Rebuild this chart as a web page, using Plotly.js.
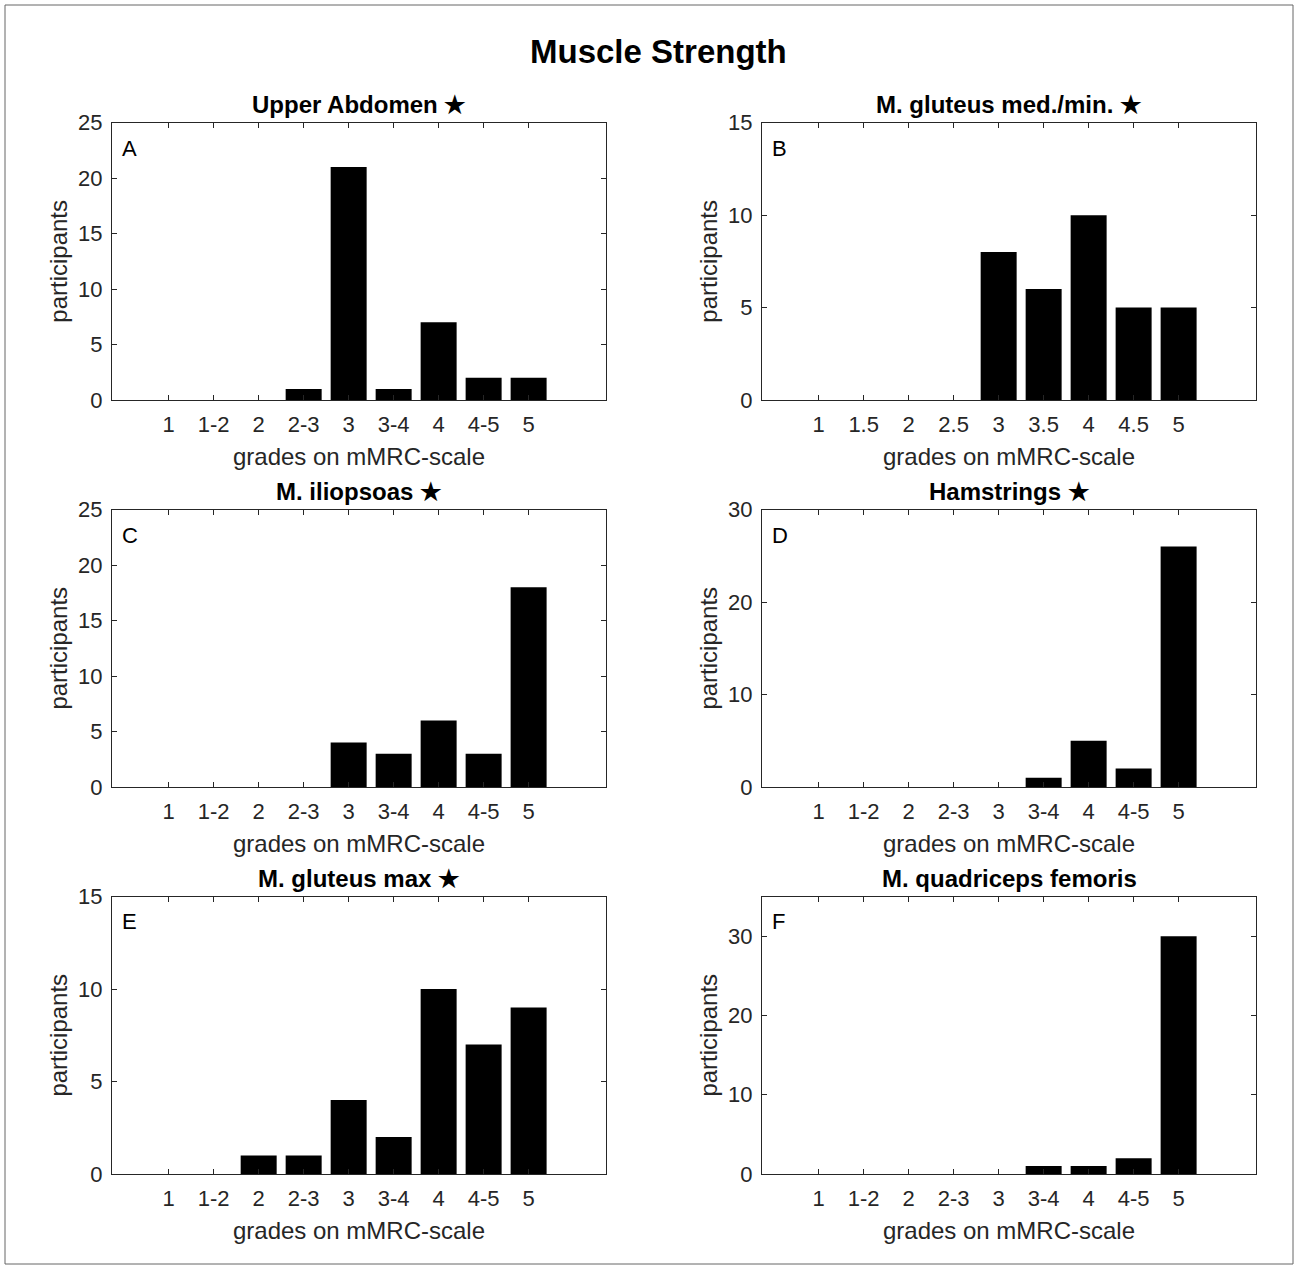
<!DOCTYPE html>
<html>
<head>
<meta charset="utf-8">
<script src="https://cdn.plot.ly/plotly-3.0.1.min.js"></script>
<style>html,body{margin:0;padding:0;background:#fff;}#chart{width:1298px;height:1270px;}</style>
</head>
<body>
<div id="chart"></div>
<script>
// ---- data ----
const gradesHalf = ["1","1-2","2","2-3","3","3-4","4","4-5","5"];
const gradesDec  = ["1","1.5","2","2.5","3","3.5","4","4.5","5"];

const upperAbdomen   = [0,0,0,1,21,1,7,2,2];
const gluteusMedMin  = [0,0,0,0,8,6,10,5,5];
const iliopsoas      = [0,0,0,0,4,3,6,3,18];
const hamstrings     = [0,0,0,0,0,1,5,2,26];
const gluteusMax     = [0,0,1,1,4,2,10,7,9];
const quadriceps     = [0,0,0,0,0,1,1,2,30];

const panelTitles  = ["Upper Abdomen \u2605","M. gluteus med./min. \u2605","M. iliopsoas \u2605","Hamstrings \u2605","M. gluteus max \u2605","M. quadriceps femoris"];
const panelLetters = ["A","B","C","D","E","F"];
const yMax  = [25,15,25,30,15,35];
const yTick = [[0,5,10,15,20,25],[0,5,10,15],[0,5,10,15,20,25],[0,10,20,30],[0,5,10,15],[0,10,20,30]];
const mainTitle = "Muscle Strength";
const xTitle = "grades on mMRC-scale";
const yTitle = "participants";

const series = [upperAbdomen, gluteusMedMin, iliopsoas, hamstrings, gluteusMax, quadriceps];
const cats   = [gradesHalf, gradesDec, gradesHalf, gradesHalf, gradesHalf, gradesHalf];

// ---- layout geometry (pixels) ----
const W = 1298, H = 1270;
const colX = [[112,606],[762,1256]];
const rowY = [[122.7,400],[509.5,787],[896.5,1174]];
const FONT = "Liberation Sans, Arial, sans-serif";
const INK = "#262626";

const data = [];
const layout = {
  width: W, height: H,
  margin: {l:0,r:0,t:0,b:0},
  paper_bgcolor: "#fff", plot_bgcolor: "#fff",
  showlegend: false,
  font: {family: FONT, color: INK, size: 21},
  annotations: [],
  shapes: [{type:"rect", xref:"paper", yref:"paper", x0:5/W, x1:1293/W, y0:1-1264/H, y1:1-5/H, line:{color:"#666", width:1}}]
};

layout.annotations.push({text:"<b>"+mainTitle+"</b>", xref:"paper", yref:"paper", x:658/W, y:1-52/H, xanchor:"center", yanchor:"middle", showarrow:false, font:{size:33, color:"#000", family:FONT}});

for (let i=0;i<6;i++){
  const r = Math.floor(i/2), c = i%2;
  const xa = "xaxis"+(i===0?"":(i+1)), ya = "yaxis"+(i===0?"":(i+1));
  const xr = "x"+(i===0?"":(i+1)), yr = "y"+(i===0?"":(i+1));
  data.push({type:"bar", x:cats[i], y:series[i], xaxis:xr, yaxis:yr, width:0.8,
    marker:{color:"#000", line:{color:"#000", width:0}}, hoverinfo:"skip"});
  const x0 = colX[c][0]/W, x1 = colX[c][1]/W;
  const y0 = 1-rowY[r][1]/H, y1 = 1-rowY[r][0]/H;
  layout[xa] = {domain:[x0,x1], anchor:yr, type:"category", range:[-1.26,9.72],
    showline:true, linecolor:INK, linewidth:1, mirror:"ticks", ticks:"inside", ticklen:5, tickcolor:INK,
    showgrid:false, zeroline:false, tickfont:{size:22, color:INK, family:FONT}, ticklabelstandoff:5,
    title:{text:xTitle, font:{size:24, color:INK, family:FONT}, standoff:11}, fixedrange:true};
  layout[ya] = {domain:[y0,y1], anchor:xr, range:[0,yMax[i]], tickvals:yTick[i],
    showline:true, linecolor:INK, linewidth:1, mirror:"ticks", ticks:"inside", ticklen:5, tickcolor:INK,
    showgrid:false, zeroline:false, tickfont:{size:22, color:INK, family:FONT}, ticklabelstandoff:4,
    title:{text:yTitle, font:{size:24, color:INK, family:FONT}, standoff:3}, fixedrange:true};
  layout.annotations.push({text:"<b>"+panelTitles[i]+"</b>", xref:"paper", yref:"paper",
    x:(colX[c][0]+colX[c][1])/2/W, y:y1+3/H, xanchor:"center", yanchor:"bottom", showarrow:false,
    font:{size:24, color:"#000", family:FONT}});
  layout.annotations.push({text:panelLetters[i], xref:"paper", yref:"paper",
    x:(colX[c][0]+8)/W, y:y1-11/H, xanchor:"left", yanchor:"top", showarrow:false,
    font:{size:22, color:"#000", family:FONT}});
}

Plotly.newPlot("chart", data, layout, {displayModeBar:false, staticPlot:true});
</script>
</body>
</html>
